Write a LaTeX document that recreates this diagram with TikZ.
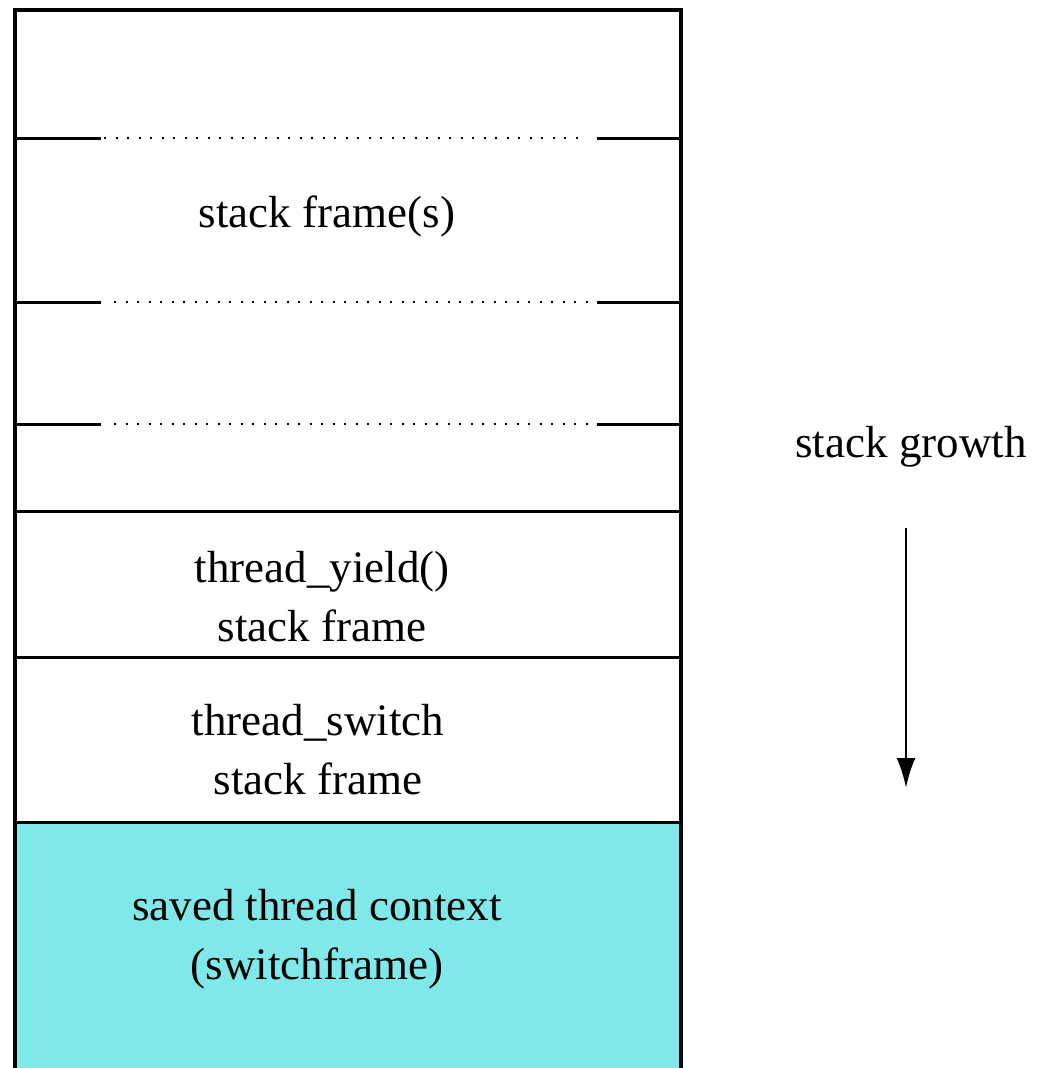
\documentclass[tikz,border=0pt]{standalone}
\usepackage{fontspec}
\setmainfont{Liberation Serif}
\usetikzlibrary{arrows.meta}
\definecolor{ctxcyan}{RGB}{128,232,232}
\begin{document}
\begin{tikzpicture}[x=1pt,y=-1pt]
		\tikzstyle{label}=[font=\fontsize{45}{59}\selectfont,align=center,inner sep=0pt]
		\tikzstyle{wall}=[draw=black,line width=3.6pt]
		\tikzstyle{sep}=[draw=black,line width=3pt]
		\tikzstyle{gap}=[draw=black,line width=2.4pt,dash pattern=on 2.4pt off 9.1pt]
		\useasboundingbox (0,0) rectangle (1036,1068);
		\begin{scope}
			% saved context area
			\fill[ctxcyan] (15,822) rectangle (681,1090);
			% outer walls
			\path[wall] (15,1090) -- (15,10) -- (681,10) -- (681,1090);
			% frame boundaries
			\path[sep] (15,138) -- (101,138);
			\path[gap] (104,138) -- (584,138);
			\path[sep] (597,138) -- (681,138);
			\path[sep] (15,302) -- (101,302);
			\path[gap] (114,302) -- (594,302);
			\path[sep] (597,302) -- (681,302);
			\path[sep] (15,424) -- (101,424);
			\path[gap] (114,424) -- (594,424);
			\path[sep] (597,424) -- (681,424);
			\path[sep] (15,511) -- (681,511);
			\path[sep] (15,657) -- (681,657);
			\path[sep] (15,822) -- (681,822);
			% labels
			\node [label] (frames) at (327,216) {stack frame(s)};
			\node [label] (yield) at (322,597) {thread\_yield()\\stack frame};
			\node [label] (switch) at (318,750) {thread\_switch\\stack frame};
			\node [label] (context) at (317,939) {saved thread context\\(switchframe)};
			\node [label] (growth) at (911,447) {stack growth};
			\coordinate (growtop) at (906,528);
			\coordinate (growbot) at (906,788);
			\path[draw,line width=2.8pt,-{Latex[length=30pt,width=19pt]}] (growtop) -- (growbot);
		\end{scope}
\end{tikzpicture}
\end{document}
